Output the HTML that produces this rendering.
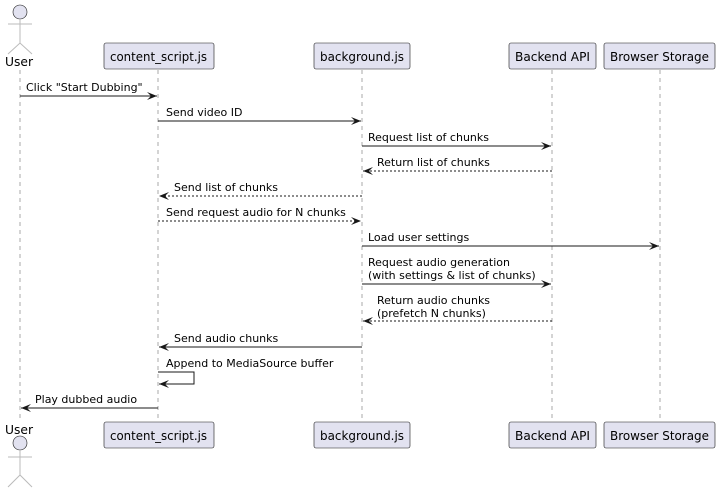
<!DOCTYPE html>
<html><head><meta charset="utf-8"><style>html,body{margin:0;padding:0;background:#fff}svg{display:block}</style></head><body>
<svg width="720" height="491" xmlns="http://www.w3.org/2000/svg" font-family="DejaVu Sans, Liberation Sans, sans-serif">
<defs>
<marker id="o" viewBox="0 0 10 8" refX="10" refY="4" markerWidth="10" markerHeight="8" orient="auto" markerUnits="userSpaceOnUse"><path d="M0,0 L10,4 L0,8 L4,4 Z" fill="#181818"/></marker>
</defs>
<g stroke="#aaa" stroke-dasharray="4,4" stroke-width="1">
<line x1="20" y1="70" x2="20" y2="422"/>
<line x1="158" y1="70" x2="158" y2="422"/>
<line x1="362" y1="70" x2="362" y2="422"/>
<line x1="552" y1="70" x2="552" y2="422"/>
<line x1="660" y1="70" x2="660" y2="422"/>
</g>
<g fill="#e2e2f0" stroke="#181818" stroke-width="0.6">
<circle cx="20" cy="12" r="7"/>
<circle cx="20" cy="443" r="7"/>
</g>
<g stroke="#bbb" stroke-width="1" fill="none">
<path d="M20,19 V43 M8,24 H32 M8,54 L20,43 L32,54"/>
<path d="M20,450 V475 M8,457 H32 M8,487 L20,475 L32,487"/>
</g>
<g fill="#e2e2f0" stroke="#181818" stroke-width="0.6">
<rect x="104" y="43" width="110" height="26" rx="2"/>
<rect x="314" y="43" width="96" height="26" rx="2"/>
<rect x="509" y="43" width="87" height="26" rx="2"/>
<rect x="604" y="43" width="111" height="26" rx="2"/>
<rect x="104" y="422" width="110" height="26" rx="2"/>
<rect x="314" y="422" width="96" height="26" rx="2"/>
<rect x="509" y="422" width="87" height="26" rx="2"/>
<rect x="604" y="422" width="111" height="26" rx="2"/>
</g>
<g font-size="12.5" fill="#000">
<text x="5" y="66" textLength="28" lengthAdjust="spacingAndGlyphs">User</text>
<text x="5" y="434" textLength="28" lengthAdjust="spacingAndGlyphs">User</text>
<text x="110" y="61" textLength="97" lengthAdjust="spacingAndGlyphs">content_script.js</text>
<text x="320" y="61" textLength="84" lengthAdjust="spacingAndGlyphs">background.js</text>
<text x="515" y="61" textLength="75" lengthAdjust="spacingAndGlyphs">Backend API</text>
<text x="610" y="61" textLength="99" lengthAdjust="spacingAndGlyphs">Browser Storage</text>
<text x="110" y="440" textLength="97" lengthAdjust="spacingAndGlyphs">content_script.js</text>
<text x="320" y="440" textLength="84" lengthAdjust="spacingAndGlyphs">background.js</text>
<text x="515" y="440" textLength="75" lengthAdjust="spacingAndGlyphs">Backend API</text>
<text x="610" y="440" textLength="99" lengthAdjust="spacingAndGlyphs">Browser Storage</text>
</g>
<g stroke="#181818" stroke-width="1" fill="none">
<line x1="20" y1="96" x2="157" y2="96" marker-end="url(#o)"/>
<line x1="158" y1="121" x2="361" y2="121" marker-end="url(#o)"/>
<line x1="362" y1="146" x2="551" y2="146" marker-end="url(#o)"/>
<line x1="552" y1="171" x2="363" y2="171" stroke-dasharray="2,2" marker-end="url(#o)"/>
<line x1="362" y1="196" x2="159" y2="196" stroke-dasharray="2,2" marker-end="url(#o)"/>
<line x1="158" y1="221" x2="361" y2="221" stroke-dasharray="2,2" marker-end="url(#o)"/>
<line x1="362" y1="246" x2="659" y2="246" marker-end="url(#o)"/>
<line x1="362" y1="284" x2="551" y2="284" marker-end="url(#o)"/>
<line x1="552" y1="321" x2="363" y2="321" stroke-dasharray="2,2" marker-end="url(#o)"/>
<line x1="362" y1="347" x2="159" y2="347" marker-end="url(#o)"/>
<path d="M158,372 H194 V384 H159" marker-end="url(#o)"/>
<line x1="158" y1="408" x2="21" y2="408" marker-end="url(#o)"/>
</g>
<g font-size="11" fill="#000">
<text x="26" y="91">Click "Start Dubbing"</text>
<text x="166" y="116">Send video ID</text>
<text x="368" y="141">Request list of chunks</text>
<text x="377" y="166">Return list of chunks</text>
<text x="174" y="191">Send list of chunks</text>
<text x="166" y="216">Send request audio for N chunks</text>
<text x="368" y="241">Load user settings</text>
<text x="368" y="266">Request audio generation</text>
<text x="368" y="279">(with settings &amp; list of chunks)</text>
<text x="377" y="304">Return audio chunks</text>
<text x="377" y="317">(prefetch N chunks)</text>
<text x="174" y="342">Send audio chunks</text>
<text x="166" y="367">Append to MediaSource buffer</text>
<text x="35" y="403">Play dubbed audio</text>
</g>
</svg>
</body></html>
